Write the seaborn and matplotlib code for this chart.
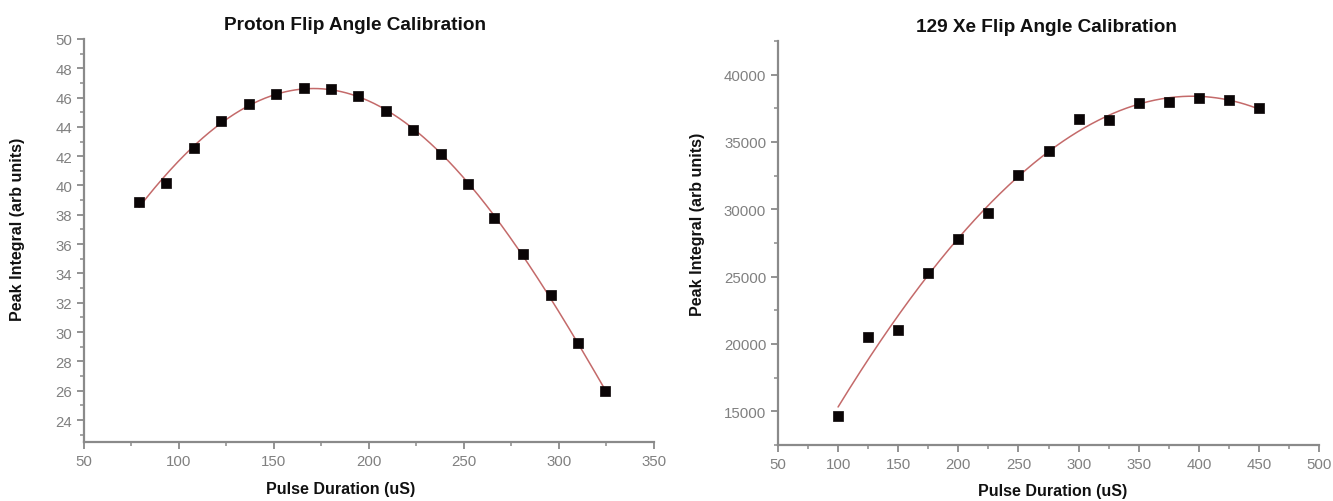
import numpy as np
import pandas as pd
import matplotlib
matplotlib.use("Agg")
import matplotlib.pyplot as plt
from matplotlib.ticker import MultipleLocator
import seaborn as sns

# Proton calibration: pulse duration (uS) vs. peak integral
proton_duration = [79, 93, 108, 122, 137, 151, 166, 180, 194, 209, 223, 238, 252, 266, 281, 296, 310, 324]
proton_integral = [38.87, 40.2, 42.55, 44.43, 45.57, 46.27, 46.63, 46.6, 46.12, 45.1, 43.8, 42.15,
                   40.1, 37.75, 35.3, 32.5, 29.26, 25.98]

# 129Xe calibration: pulse duration (uS) vs. peak integral
xe_duration = [100, 125, 150, 175, 200, 225, 250, 275, 300, 325, 350, 375, 400, 425, 450]
xe_integral = [14660, 20520, 21070, 25250, 27800, 29700, 32570, 34340, 36690, 36610, 37920, 37970,
               38250, 38120, 37550]

proton_title = "Proton Flip Angle Calibration"
xe_title = "129 Xe Flip Angle Calibration"
x_label = "Pulse Duration (uS)"
y_label = "Peak Integral (arb units)"

sns.set_theme(style="white")
plt.rcParams["font.family"] = ["Liberation Sans", "DejaVu Sans"]

AXIS_GREY = "#8a8a8a"
TICK_GREY = "#808080"
FIT_RED = "#c46a6a"

fig = plt.figure(figsize=(13.33, 5.02), dpi=100)
ax1 = fig.add_axes([0.0630, 0.1175, 0.4276, 0.8030])
ax2 = fig.add_axes([0.5836, 0.1116, 0.4060, 0.8050])


def draw_panel(ax, x, y, deg):
    df = pd.DataFrame({"duration": x, "integral": y})
    coef = np.polyfit(df["duration"], df["integral"], deg)
    xs = np.linspace(min(x), max(x), 300)
    fit = pd.DataFrame({"duration": xs, "integral": np.polyval(coef, xs)})
    sns.lineplot(data=fit, x="duration", y="integral", ax=ax, color=FIT_RED, lw=1.1, zorder=2)
    sns.scatterplot(data=df, x="duration", y="integral", ax=ax, marker="s", s=48,
                    color="#0a0506", edgecolor="#0a0506", linewidth=0.5, zorder=3)
    for side in ("top", "right"):
        ax.spines[side].set_visible(False)
    for side in ("left", "bottom"):
        ax.spines[side].set_color(AXIS_GREY)
        ax.spines[side].set_linewidth(1.6)
    ax.tick_params(which="major", direction="out", length=5, width=1.3, color=AXIS_GREY,
                   labelcolor=TICK_GREY, labelsize=10.8, left=True, bottom=True)
    ax.tick_params(which="minor", direction="out", length=3, width=1.1, color=AXIS_GREY,
                   left=True, bottom=True)
    ax.set_xlabel("")
    ax.set_ylabel("")
    ax.set_facecolor("white")


draw_panel(ax1, proton_duration, proton_integral, 4)
ax1.set_xlim(50, 350)
ax1.set_ylim(22.5, 50)
ax1.xaxis.set_major_locator(MultipleLocator(50))
ax1.xaxis.set_minor_locator(MultipleLocator(25))
ax1.set_yticks(np.arange(24, 51, 2))
ax1.yaxis.set_minor_locator(MultipleLocator(1))

draw_panel(ax2, xe_duration, xe_integral, 3)
ax2.set_xlim(50, 500)
ax2.set_ylim(12500, 42500)
ax2.xaxis.set_major_locator(MultipleLocator(50))
ax2.xaxis.set_minor_locator(MultipleLocator(25))
ax2.set_yticks(np.arange(15000, 40001, 5000))
ax2.yaxis.set_minor_locator(MultipleLocator(2500))

title_kw = dict(fontsize=13.7, fontweight="bold", color="#111111", ha="center", va="center")
fig.text(355 / 1333, 1 - 25 / 502, proton_title, **title_kw)
fig.text(1046 / 1333, 1 - 28 / 502, xe_title, **title_kw)

label_kw = dict(fontsize=11.5, fontweight="bold", color="#111111", ha="center", va="center",
                family=["Liberation Sans Narrow", "Liberation Sans", "DejaVu Sans"])
fig.text(341 / 1333, 1 - 490 / 502, x_label, **label_kw)
fig.text(1053 / 1333, 1 - 492 / 502, x_label, **label_kw)
fig.text(18 / 1333, 1 - 229 / 502, y_label, rotation=90, **label_kw)
fig.text(697 / 1333, 1 - 224 / 502, y_label, rotation=90, **label_kw)

fig.savefig("out.png", dpi=100, facecolor="white")
